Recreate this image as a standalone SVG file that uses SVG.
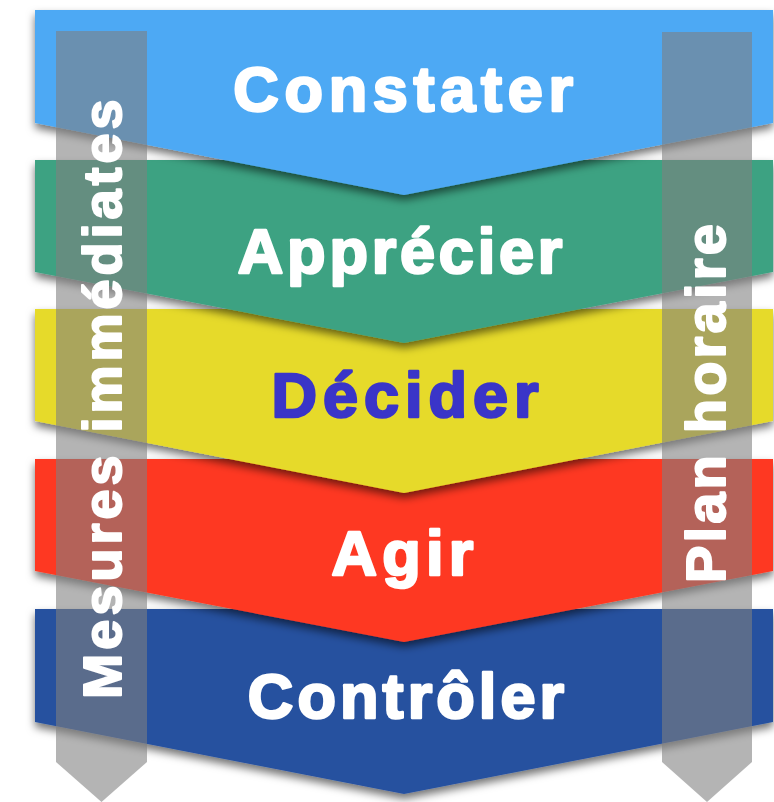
<svg xmlns="http://www.w3.org/2000/svg" width="774" height="802" viewBox="0 0 774 802">
  <defs>
    <filter id="shadow" x="-5%" y="-10%" width="110%" height="130%">
      <feDropShadow dx="0" dy="5" stdDeviation="4" flood-color="#000" flood-opacity="0.55"/>
    </filter>
  </defs>
  <style>
    .step { font-family: "Liberation Sans", Arial, sans-serif; font-weight: bold; font-size: 63px; text-anchor: middle; fill: #ffffff; stroke: #ffffff; stroke-width: 2.6px; stroke-linejoin: round; }
    .side { font-family: "Liberation Sans", Arial, sans-serif; font-weight: bold; text-anchor: middle; fill: #ffffff; stroke: #ffffff; stroke-width: 2px; stroke-linejoin: round; }
    .bar { fill: #7f7f7f; fill-opacity: 0.59; }
  </style>
  <rect width="774" height="802" fill="#ffffff"/>

  <g id="step5">
    <polygon points="35,609 773,609 773,722 404,794 35,722" fill="#27519f" filter="url(#shadow)"/>
    <text class="step" x="408" y="718" style="letter-spacing:4.1px">Contrôler</text>
  </g>
  <g id="step4">
    <polygon points="35,459 773,459 773,571 404,642 35,571" fill="#fe3820" filter="url(#shadow)"/>
    <text class="step" x="405" y="575" style="letter-spacing:5.2px">Agir</text>
  </g>
  <g id="step3">
    <polygon points="35,309 773,309 773,421 404,493 35,421" fill="#e6da2a" filter="url(#shadow)"/>
    <text class="step" x="408" y="417" style="letter-spacing:6px;fill:#3a35c8;stroke:#3a35c8">Décider</text>
  </g>
  <g id="step2">
    <polygon points="35,160 773,160 773,272 404,343 35,272" fill="#3ea282" filter="url(#shadow)"/>
    <text class="step" x="402" y="273" style="letter-spacing:3.8px">Apprécier</text>
  </g>
  <g id="step1">
    <polygon points="35,10 773,10 773,123 404,195 35,123" fill="#4ea9f4" filter="url(#shadow)"/>
    <text class="step" x="406" y="111" style="letter-spacing:5.7px">Constater</text>
  </g>

  <g id="mesures">
    <polygon class="bar" points="56,31 147,31 147,762 101.5,802 56,762"/>
    <text class="side" transform="translate(121,397) rotate(-90)" style="font-size:54px;letter-spacing:4px">Mesures immédiates</text>
  </g>
  <g id="plan">
    <polygon class="bar" points="662,32 752,32 752,762 707,802 662,762"/>
    <text class="side" transform="translate(725,402) rotate(-90)" style="font-size:56px;letter-spacing:3.2px">Plan horaire</text>
  </g>
</svg>
